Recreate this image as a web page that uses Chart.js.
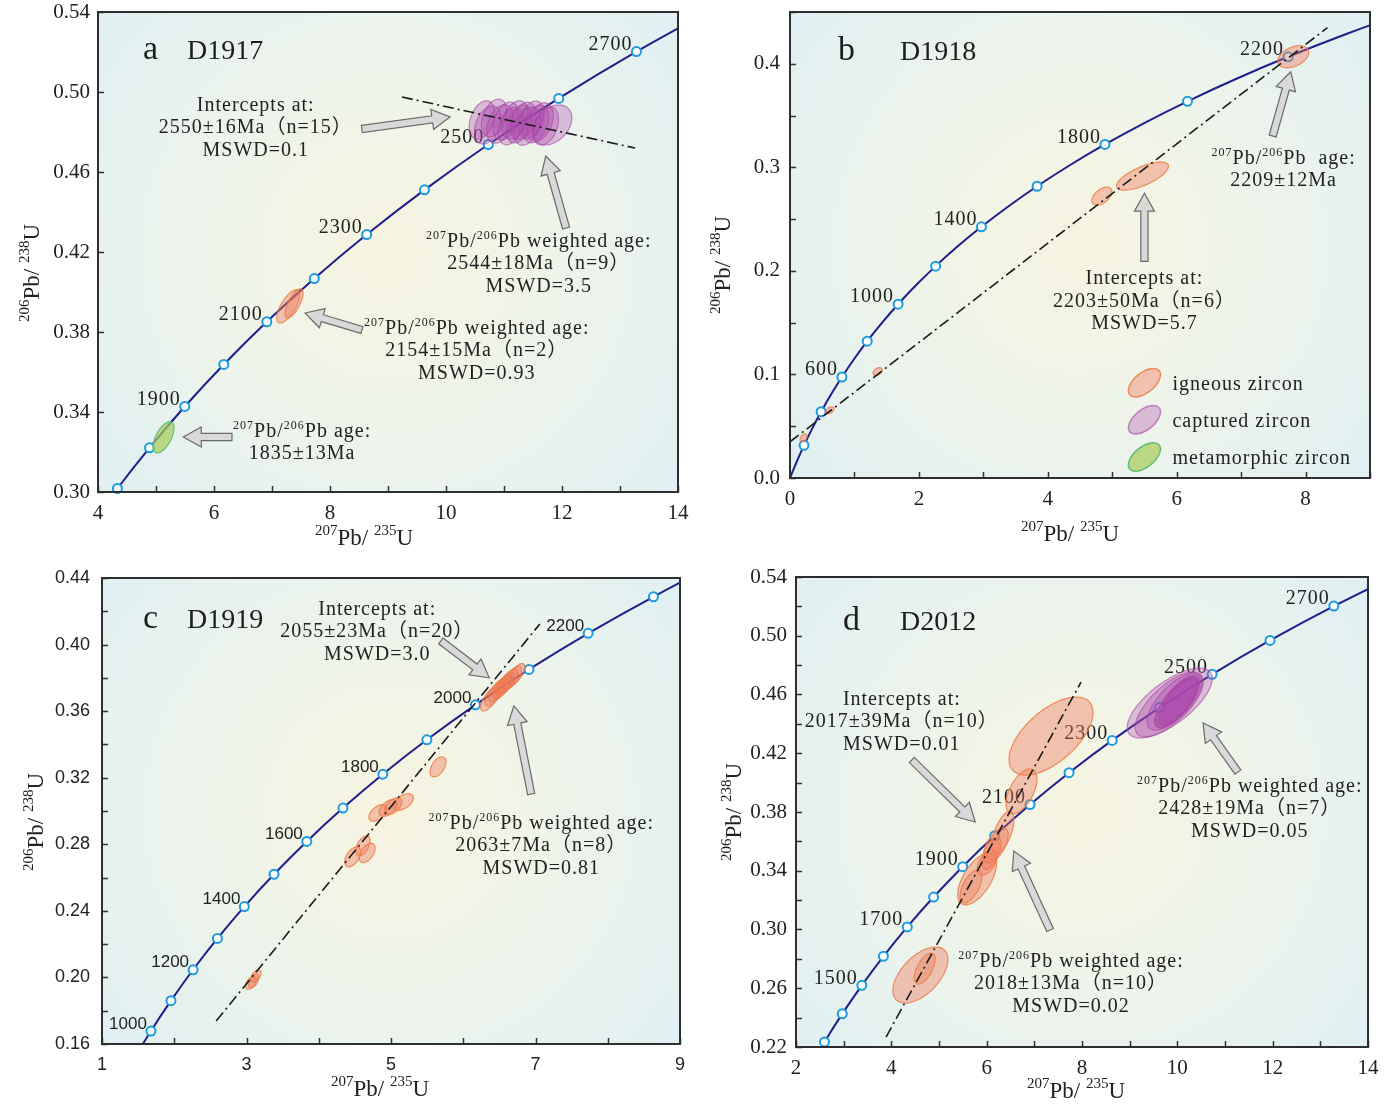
<!DOCTYPE html>
<html>
<head>
<meta charset="utf-8">
<title>U-Pb concordia diagrams</title>
<script src="https://cdn.jsdelivr.net/npm/chart.js@4.4.0/dist/chart.umd.min.js"></script>
<style>
  body { margin: 0; background: #fff; }
  #wrap { position: relative; width: 1395px; height: 1104px; }
  canvas { position: absolute; }
</style>
</head>
<body>
<div id="wrap">
  <canvas id="pa" width="697" height="560" style="left:0;top:0"></canvas>
  <canvas id="pb" width="695" height="560" style="left:700px;top:0"></canvas>
  <canvas id="pc" width="697" height="539" style="left:0;top:565px"></canvas>
  <canvas id="pd" width="695" height="539" style="left:700px;top:565px"></canvas>
</div>
<script>
// concordia reference points, Ma -> 207Pb/235U, 206Pb/238U
const concordiaAges = [0, 100, 200, 300, 400, 500, 600, 700, 800, 900, 1000, 1100, 1200, 1300, 1400,
  1500, 1600, 1700, 1800, 1900, 2000, 2100, 2200, 2300, 2400, 2500, 2600, 2700, 2800];
const concordia75 = [0, 0.10350, 0.21771, 0.34374, 0.48281, 0.63628, 0.80563, 0.99251, 1.19873, 1.42629,
  1.67741, 1.95451, 2.26030, 2.59773, 2.97009, 3.38098, 3.83440, 4.33475, 4.88689, 5.49617, 6.16851,
  6.91043, 7.72914, 8.63258, 9.62954, 10.72967, 11.94366, 13.28330, 14.76159];
const concordia68 = [0, 0.01563, 0.03151, 0.04764, 0.06402, 0.08065, 0.09754, 0.11470, 0.13213, 0.14983,
  0.16780, 0.18606, 0.20460, 0.22344, 0.24256, 0.26199, 0.28172, 0.30175, 0.32210, 0.34277, 0.36377,
  0.38509, 0.40674, 0.42873, 0.45107, 0.47375, 0.49679, 0.52019, 0.54396];

// ages marked / labelled on each concordia
const d1917MarkAges = [1700, 1800, 1900, 2000, 2100, 2200, 2300, 2400, 2500, 2600, 2700];
const d1917LabelAges = [1900, 2100, 2300, 2500, 2700];
const d1918MarkAges = [200, 400, 600, 800, 1000, 1200, 1400, 1600, 1800, 2000, 2200];
const d1918LabelAges = [600, 1000, 1400, 1800, 2200];
const d1919MarkAges = [1000, 1100, 1200, 1300, 1400, 1500, 1600, 1700, 1800, 1900, 2000, 2100, 2200, 2300];
const d1919LabelAges = [1000, 1200, 1400, 1600, 1800, 2000, 2200];
const d2012MarkAges = [1300, 1400, 1500, 1600, 1700, 1800, 1900, 2000, 2100, 2200, 2300, 2400, 2500, 2600, 2700];
const d2012LabelAges = [1500, 1700, 1900, 2100, 2300, 2500, 2700];

// spot ellipses: [207Pb/235U, 206Pb/238U, err x, err y, rho]
const d1917Captured = [
  [10.62, 0.4860, 0.22, 0.0096, 0.35], [10.72, 0.4835, 0.23, 0.0095, 0.35],
  [10.83, 0.4870, 0.22, 0.0094, 0.35], [10.93, 0.4840, 0.23, 0.0096, 0.35],
  [11.03, 0.4855, 0.22, 0.0095, 0.35], [11.12, 0.4830, 0.22, 0.0094, 0.35],
  [11.19, 0.4860, 0.23, 0.0096, 0.35], [11.26, 0.4840, 0.22, 0.0095, 0.35],
  [11.33, 0.4855, 0.22, 0.0094, 0.35], [11.40, 0.4830, 0.23, 0.0096, 0.35],
  [11.47, 0.4860, 0.22, 0.0095, 0.35], [11.55, 0.4840, 0.22, 0.0094, 0.35],
  [11.62, 0.4850, 0.23, 0.0096, 0.35], [11.72, 0.4830, 0.22, 0.0095, 0.35],
  [11.83, 0.4835, 0.34, 0.0100, 0.35]
];
const d1917Igneous = [[7.28, 0.3928, 0.198, 0.0083, 0.7], [7.38, 0.3943, 0.155, 0.0073, 0.7]];
const d1917Metamorphic = [[5.13, 0.3273, 0.181, 0.0078, 0.6]];
const d1917Discordia = [[9.24, 0.4975], [13.26, 0.4720]];

const d1918Igneous = [
  [0.21, 0.0387, 0.054, 0.0039, 0.4], [0.62, 0.0654, 0.062, 0.0034, 0.4],
  [1.36, 0.1027, 0.070, 0.0039, 0.4], [4.84, 0.2722, 0.155, 0.0087, 0.5],
  [5.47, 0.2915, 0.403, 0.0136, 0.7], [7.81, 0.4068, 0.240, 0.0107, 0.4]
];
const d1918Discordia = [[0, 0.0349], [8.34, 0.4349]];

const d1919Igneous = [
  [3.06, 0.1967, 0.075, 0.0038, 0.5], [3.13, 0.2009, 0.070, 0.0036, 0.5], [3.10, 0.1979, 0.070, 0.0042, 0.5],
  [4.47, 0.2724, 0.110, 0.0060, 0.5], [4.61, 0.2790, 0.100, 0.0060, 0.5], [4.67, 0.2748, 0.110, 0.0058, 0.5],
  [4.82, 0.2988, 0.125, 0.0050, 0.5], [4.96, 0.3018, 0.125, 0.0050, 0.5], [5.03, 0.3030, 0.120, 0.0050, 0.5],
  [5.17, 0.3054, 0.140, 0.0050, 0.5], [5.65, 0.3265, 0.110, 0.0060, 0.5],
  [6.37, 0.3673, 0.130, 0.0072, 0.7], [6.43, 0.3703, 0.130, 0.0072, 0.7], [6.48, 0.3727, 0.125, 0.0070, 0.7],
  [6.54, 0.3745, 0.130, 0.0072, 0.7], [6.58, 0.3763, 0.125, 0.0070, 0.7], [6.62, 0.3781, 0.130, 0.0072, 0.7],
  [6.68, 0.3800, 0.125, 0.0070, 0.7], [6.73, 0.3818, 0.120, 0.0068, 0.7]
];
const d1919Discordia = [[2.58, 0.1738], [7.06, 0.4124]];

const d2012Igneous = [
  [7.35, 0.4317, 0.881, 0.0266, 0.6], [6.73, 0.3940, 0.325, 0.0153, 0.55], [6.34, 0.3660, 0.231, 0.0143, 0.6],
  [6.19, 0.3572, 0.262, 0.0119, 0.6], [6.01, 0.3456, 0.210, 0.0085, 0.5], [5.80, 0.3344, 0.409, 0.0177, 0.6],
  [5.67, 0.3293, 0.231, 0.0112, 0.6], [6.10, 0.3520, 0.200, 0.0110, 0.6], [4.61, 0.2690, 0.577, 0.0191, 0.55],
  [4.70, 0.2734, 0.220, 0.0106, 0.6]
];
const d2012Captured = [
  [9.84, 0.4542, 0.892, 0.0238, 0.7], [9.83, 0.4532, 0.713, 0.0221, 0.7], [9.94, 0.4552, 0.577, 0.0194, 0.7],
  [10.00, 0.4552, 0.472, 0.0180, 0.75], [10.02, 0.4555, 0.420, 0.0163, 0.75], [10.05, 0.4560, 0.380, 0.0150, 0.7],
  [9.98, 0.4548, 0.450, 0.0170, 0.75]
];
const d2012Discordia = [[3.89, 0.2268], [7.98, 0.4685]];

const SERIF = '"Liberation Serif", "Times New Roman", "Noto Sans CJK SC", serif';
const SANS = '"Liberation Sans", Arial, sans-serif';
const INK = '#222222';

const STYLE = {
  igneous: { fill: 'rgba(240,118,88,0.40)', stroke: 'rgba(236,124,70,0.85)' },
  captured: { fill: 'rgba(172,72,170,0.32)', stroke: 'rgba(168,70,165,0.62)' },
  metamorphic: { fill: 'rgba(168,204,92,0.72)', stroke: 'rgba(88,190,112,0.95)' }
};

// '{207}Pb' -> superscript 207 followed by Pb
function richParts(str) {
  const parts = [];
  str.split(/(\{[^}]*\})/).forEach(s => {
    if (!s) return;
    if (s[0] === '{') parts.push({ t: s.slice(1, -1), sup: true });
    else parts.push({ t: s, sup: false });
  });
  return parts;
}

function drawRich(ctx, str, x, y, o) {
  const parts = richParts(str);
  const supSize = o.sup || Math.round(o.size * 0.6);
  ctx.letterSpacing = o.spacing || '0px';
  let w = 0;
  parts.forEach(p => {
    ctx.font = (p.sup ? supSize : o.size) + 'px ' + o.family;
    p.w = ctx.measureText(p.t).width;
    w += p.w;
  });
  let cx = o.align === 'center' ? x - w / 2 : (o.align === 'right' ? x - w : x);
  const base = y + o.size * 0.34;
  ctx.textAlign = 'left';
  ctx.textBaseline = 'alphabetic';
  parts.forEach(p => {
    ctx.font = (p.sup ? supSize : o.size) + 'px ' + o.family;
    ctx.fillText(p.t, cx, p.sup ? base - (o.rise || o.size * 0.42) : base);
    cx += p.w;
  });
  ctx.letterSpacing = '0px';
}

function drawArrow(ctx, x1, y1, x2, y2) {
  const ang = Math.atan2(y2 - y1, x2 - x1);
  const len = Math.hypot(x2 - x1, y2 - y1);
  const hl = 18, hw = 10, sw = 3.6;
  ctx.save();
  ctx.translate(x1, y1);
  ctx.rotate(ang);
  ctx.beginPath();
  ctx.moveTo(0, -sw);
  ctx.lineTo(len - hl, -sw);
  ctx.lineTo(len - hl, -hw);
  ctx.lineTo(len, 0);
  ctx.lineTo(len - hl, hw);
  ctx.lineTo(len - hl, sw);
  ctx.lineTo(0, sw);
  ctx.closePath();
  ctx.fillStyle = '#d9d9d9';
  ctx.fill();
  ctx.strokeStyle = '#6b6b6b';
  ctx.lineWidth = 1.2;
  ctx.stroke();
  ctx.restore();
}

function drawEllipse(ctx, xs, ys, e, style) {
  const [cx, cy, sx, sy, rho] = e;
  const k = Math.sqrt(1 - rho * rho);
  ctx.beginPath();
  for (let i = 0; i <= 90; i++) {
    const t = i / 90 * Math.PI * 2;
    const px = xs.getPixelForValue(cx + sx * Math.cos(t));
    const py = ys.getPixelForValue(cy + sy * (rho * Math.cos(t) + k * Math.sin(t)));
    if (i === 0) ctx.moveTo(px, py); else ctx.lineTo(px, py);
  }
  ctx.closePath();
  ctx.fillStyle = style.fill;
  ctx.fill();
  ctx.strokeStyle = style.stroke;
  ctx.lineWidth = 1.2;
  ctx.stroke();
}

function ratioAt(age) {
  const i = concordiaAges.indexOf(age);
  return { x: concordia75[i], y: concordia68[i] };
}

function makePlugin(p) {
  return {
    id: 'panel_' + p.canvas,
    beforeDraw(chart) {
      const { ctx, chartArea: a } = chart;
      const cx = (a.left + a.right) / 2, cy = (a.top + a.bottom) / 2;
      const g = ctx.createRadialGradient(cx, cy, 0, cx, cy, (a.right - a.left) * 0.62);
      g.addColorStop(0, '#f7f4e0');
      g.addColorStop(0.5, '#eef4ea');
      g.addColorStop(1, '#e1f0f2');
      ctx.save();
      ctx.fillStyle = g;
      ctx.fillRect(a.left, a.top, a.right - a.left, a.bottom - a.top);
      ctx.restore();
    },
    beforeDatasetsDraw(chart) {
      const { ctx } = chart;
      const xs = chart.scales.x, ys = chart.scales.y;
      ctx.save();
      ctx.fillStyle = INK;
      ctx.font = p.ageSize + 'px ' + p.ageFont;
      ctx.letterSpacing = p.ageSpacing;
      ctx.textAlign = 'right';
      ctx.textBaseline = 'middle';
      p.labelAges.forEach(age => {
        const r = ratioAt(age);
        ctx.fillText(String(age), xs.getPixelForValue(r.x) - 4, ys.getPixelForValue(r.y) - 7);
      });
      ctx.restore();
    },
    beforeDatasetDraw(chart, args) {
      if (args.index !== 0) return;
      const { ctx, chartArea: a } = chart;
      const xs = chart.scales.x, ys = chart.scales.y;
      ctx.save();
      ctx.beginPath();
      ctx.rect(a.left, a.top, a.right - a.left, a.bottom - a.top);
      ctx.clip();
      p.spots.forEach(s => s.data.forEach(e => drawEllipse(ctx, xs, ys, e, STYLE[s.kind])));
      ctx.restore();
    },
    afterDraw(chart) {
      const { ctx, chartArea: a } = chart;
      const xs = chart.scales.x, ys = chart.scales.y;
      ctx.save();
      // inward tick marks
      ctx.strokeStyle = '#333';
      ctx.lineWidth = 1.5;
      ctx.beginPath();
      xs.ticks.forEach(t => {
        const px = Math.round(xs.getPixelForValue(t.value)) + 0.5;
        ctx.moveTo(px, a.bottom);
        ctx.lineTo(px, a.bottom - 6);
      });
      ys.ticks.forEach(t => {
        const py = Math.round(ys.getPixelForValue(t.value)) + 0.5;
        ctx.moveTo(a.left, py);
        ctx.lineTo(a.left + 6, py);
      });
      ctx.stroke();
      // frame
      ctx.lineWidth = 2;
      ctx.strokeStyle = '#2e2e2e';
      ctx.strokeRect(a.left, a.top, a.right - a.left, a.bottom - a.top);

      // panel letter and sample name
      ctx.fillStyle = '#1e1e1e';
      ctx.textAlign = 'left';
      ctx.textBaseline = 'alphabetic';
      ctx.font = '34px ' + SERIF;
      ctx.fillText(p.letter, a.left + p.letterDx, a.top + p.titleDy);
      ctx.font = '28px ' + SERIF;
      ctx.fillText(p.name, a.left + p.nameDx, a.top + p.titleDy);

      // axis titles
      ctx.fillStyle = INK;
      const tOpt = { size: 23, sup: 15, rise: 10, family: SERIF, align: 'center' };
      drawRich(ctx, '{207}Pb/ {235}U', p.xTitle[0], p.xTitle[1], tOpt);
      ctx.save();
      ctx.translate(p.yTitle[0], p.yTitle[1]);
      ctx.rotate(-Math.PI / 2);
      drawRich(ctx, '{206}Pb/ {238}U', 0, 0, tOpt);
      ctx.restore();

      // arrows and result notes
      p.arrows.forEach(ar => drawArrow(ctx,
        xs.getPixelForValue(ar[0]), ys.getPixelForValue(ar[1]),
        xs.getPixelForValue(ar[2]), ys.getPixelForValue(ar[3])));
      ctx.fillStyle = INK;
      const nOpt = { size: 20, sup: 12, rise: 8, family: SERIF, align: 'center', spacing: '1px' };
      p.notes.forEach(n => {
        const x0 = xs.getPixelForValue(n.x), y0 = ys.getPixelForValue(n.y);
        n.lines.forEach((line, i) => drawRich(ctx, line, x0, y0 + i * 22.5, nOpt));
      });

      // legend of spot types
      if (p.legend) {
        p.legend.forEach(item => {
          const px = xs.getPixelForValue(item.x), py = ys.getPixelForValue(item.y);
          ctx.beginPath();
          ctx.ellipse(px, py, 19, 10, -0.68, 0, Math.PI * 2);
          ctx.fillStyle = STYLE[item.kind].fill;
          ctx.fill();
          ctx.strokeStyle = STYLE[item.kind].stroke;
          ctx.lineWidth = 1.5;
          ctx.stroke();
          ctx.fillStyle = INK;
          drawRich(ctx, item.text, px + 28, py, { size: 20, family: SERIF, align: 'left', spacing: '1px' });
        });
      }
      ctx.restore();
    }
  };
}

function tickFmt(min, major, digits) {
  return function (v) {
    const k = (v - min) / major;
    return Math.abs(k - Math.round(k)) < 1e-6 ? v.toFixed(digits) : '';
  };
}

function makePanel(p) {
  const curve = concordiaAges.map((a, i) => ({ x: concordia75[i], y: concordia68[i] }));
  const marks = p.markAges.map(ratioAt);
  const disc = p.discordia.map(d => ({ x: d[0], y: d[1] }));
  const tickFont = { family: p.tickFont, size: p.tickSize };
  new Chart(document.getElementById(p.canvas), {
    type: 'scatter',
    data: {
      datasets: [
        { data: disc, showLine: true, borderColor: '#1a1a1a', borderWidth: 1.6,
          borderDash: [11, 4, 2, 4], pointRadius: 0, clip: 0 },
        { data: marks, pointRadius: 4.5, pointBackgroundColor: '#ffffff',
          pointBorderColor: '#1a9be2', pointBorderWidth: 2, clip: false },
        { data: curve, showLine: true, borderColor: '#1f1f8c', borderWidth: 2,
          pointRadius: 0, tension: 0.3, clip: 0 }
      ]
    },
    options: {
      responsive: false,
      animation: false,
      events: [],
      layout: { padding: { left: 0, top: p.pad.top, right: p.pad.right, bottom: 0 } },
      plugins: { legend: { display: false }, tooltip: { enabled: false } },
      scales: {
        x: {
          type: 'linear', min: p.x.min, max: p.x.max,
          grid: { display: false, drawTicks: false }, border: { display: false },
          ticks: { stepSize: p.x.step, autoSkip: false, maxRotation: 0, color: INK, font: tickFont,
            padding: p.padX, callback: tickFmt(p.x.min, p.x.major, p.x.digits) },
          afterFit(s) { s.height = p.xHeight; s.paddingLeft = 0; s.paddingRight = 0; }
        },
        y: {
          type: 'linear', min: p.y.min, max: p.y.max,
          grid: { display: false, drawTicks: false }, border: { display: false },
          ticks: { stepSize: p.y.step, autoSkip: false, color: INK, font: tickFont,
            padding: p.padY, callback: tickFmt(p.y.min, p.y.major, p.y.digits) },
          afterFit(s) { s.width = p.yWidth; s.paddingTop = 0; s.paddingBottom = 0; }
        }
      }
    },
    plugins: [makePlugin(p)]
  });
}

makePanel({
  canvas: 'pa', letter: 'a', name: 'D1917', letterDx: 45, nameDx: 89, titleDy: 47,
  pad: { top: 12, right: 19 }, yWidth: 98, xHeight: 68,
  x: { min: 4, max: 14, step: 1, major: 2, digits: 0 },
  y: { min: 0.30, max: 0.54, step: 0.04, major: 0.04, digits: 2 },
  tickFont: SERIF, tickSize: 21, padX: 9, padY: 8,
  ageFont: SERIF, ageSize: 20, ageSpacing: '1px',
  markAges: d1917MarkAges, labelAges: d1917LabelAges, discordia: d1917Discordia,
  spots: [{ kind: 'captured', data: d1917Captured }, { kind: 'igneous', data: d1917Igneous },
    { kind: 'metamorphic', data: d1917Metamorphic }],
  xTitle: [364, 537], yTitle: [31, 273],
  arrows: [[8.55, 0.4815, 10.07, 0.4875], [12.07, 0.432, 11.72, 0.468],
    [8.55, 0.381, 7.57, 0.3895], [6.31, 0.3275, 5.47, 0.3275]],
  notes: [
    { x: 6.72, y: 0.494, lines: ['Intercepts at:', '2550±16Ma（n=15）', 'MSWD=0.1'] },
    { x: 11.60, y: 0.426, lines: ['{207}Pb/{206}Pb weighted age:', '2544±18Ma（n=9）', 'MSWD=3.5'] },
    { x: 10.53, y: 0.3825, lines: ['{207}Pb/{206}Pb weighted age:', '2154±15Ma（n=2）', 'MSWD=0.93'] },
    { x: 7.52, y: 0.331, lines: ['{207}Pb/{206}Pb age:', '1835±13Ma'] }
  ]
});

makePanel({
  canvas: 'pb', letter: 'b', name: 'D1918', letterDx: 48, nameDx: 110, titleDy: 48,
  pad: { top: 12, right: 25 }, yWidth: 90, xHeight: 82,
  x: { min: 0, max: 9, step: 1, major: 2, digits: 0 },
  y: { min: 0, max: 0.45, step: 0.05, major: 0.1, digits: 1 },
  tickFont: SERIF, tickSize: 21, padX: 9, padY: 10,
  ageFont: SERIF, ageSize: 20, ageSpacing: '1px',
  markAges: d1918MarkAges, labelAges: d1918LabelAges, discordia: d1918Discordia,
  spots: [{ kind: 'igneous', data: d1918Igneous }],
  xTitle: [370, 533], yTitle: [22, 265],
  arrows: [[7.49, 0.3303, 7.77, 0.3923], [5.50, 0.2092, 5.50, 0.2751]],
  notes: [
    { x: 7.66, y: 0.3099, lines: ['{207}Pb/{206}Pb  age:', '2209±12Ma'] },
    { x: 5.50, y: 0.1937, lines: ['Intercepts at:', '2203±50Ma（n=6）', 'MSWD=5.7'] }
  ],
  legend: [
    { x: 5.50, y: 0.0920, kind: 'igneous', text: 'igneous zircon' },
    { x: 5.50, y: 0.0562, kind: 'captured', text: 'captured zircon' },
    { x: 5.50, y: 0.0203, kind: 'metamorphic', text: 'metamorphic zircon' }
  ]
});

makePanel({
  canvas: 'pc', letter: 'c', name: 'D1919', letterDx: 41, nameDx: 85, titleDy: 50,
  pad: { top: 13, right: 17 }, yWidth: 102, xHeight: 60,
  x: { min: 1, max: 9, step: 1, major: 2, digits: 0 },
  y: { min: 0.16, max: 0.44, step: 0.02, major: 0.04, digits: 2 },
  tickFont: SANS, tickSize: 18, padX: 10, padY: 12,
  ageFont: SANS, ageSize: 17, ageSpacing: '0px',
  markAges: d1919MarkAges, labelAges: d1919LabelAges, discordia: d1919Discordia,
  spots: [{ kind: 'igneous', data: d1919Igneous }],
  xTitle: [380, 523], yTitle: [35, 257],
  arrows: [[5.69, 0.4022, 6.36, 0.380], [6.94, 0.3102, 6.70, 0.3631]],
  notes: [
    { x: 4.81, y: 0.422, lines: ['Intercepts at:', '2055±23Ma（n=20）', 'MSWD=3.0'] },
    { x: 7.08, y: 0.2934, lines: ['{207}Pb/{206}Pb weighted age:', '2063±7Ma（n=8）', 'MSWD=0.81'] }
  ]
});

makePanel({
  canvas: 'pd', letter: 'd', name: 'D2012', letterDx: 47, nameDx: 104, titleDy: 53,
  pad: { top: 12, right: 27 }, yWidth: 96, xHeight: 57,
  x: { min: 2, max: 14, step: 1, major: 2, digits: 0 },
  y: { min: 0.22, max: 0.54, step: 0.02, major: 0.04, digits: 2 },
  tickFont: SERIF, tickSize: 21, padX: 9, padY: 9,
  ageFont: SERIF, ageSize: 20, ageSpacing: '1px',
  markAges: d2012MarkAges, labelAges: d2012LabelAges, discordia: d2012Discordia,
  spots: [{ kind: 'captured', data: d2012Captured }, { kind: 'igneous', data: d2012Igneous }],
  xTitle: [376, 525], yTitle: [33, 247],
  arrows: [[4.43, 0.4154, 5.76, 0.3732], [7.33, 0.2997, 6.57, 0.3534], [11.27, 0.4072, 10.54, 0.4406]],
  notes: [
    { x: 4.22, y: 0.4576, lines: ['Intercepts at:', '2017±39Ma（n=10）', 'MSWD=0.01'] },
    { x: 7.77, y: 0.2792, lines: ['{207}Pb/{206}Pb weighted age:', '2018±13Ma（n=10）', 'MSWD=0.02'] },
    { x: 11.52, y: 0.3984, lines: ['{207}Pb/{206}Pb weighted age:', '2428±19Ma（n=7）', 'MSWD=0.05'] }
  ]
});
</script>
</body>
</html>
